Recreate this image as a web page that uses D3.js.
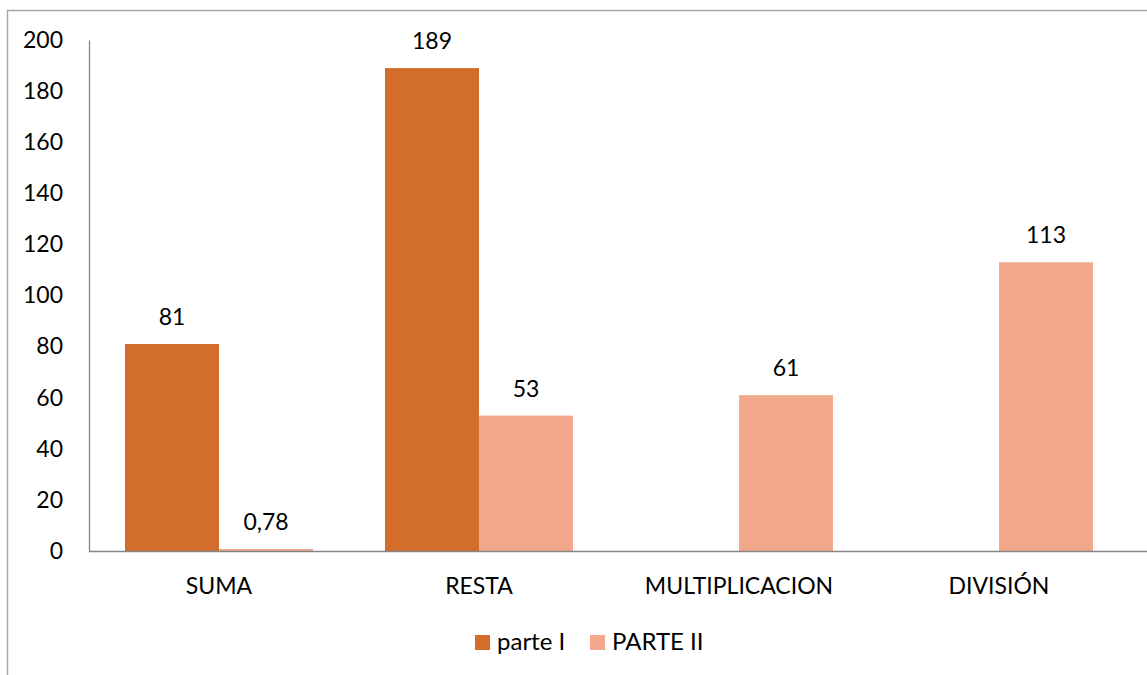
<!DOCTYPE html>
<html><head><meta charset="utf-8">
<script src="https://cdn.jsdelivr.net/npm/d3@7"></script>
<style>body{margin:0;background:#fff}svg{display:block}svg text{font-family:Lato,sans-serif}</style>
</head><body><svg id="c" width="1147" height="675"></svg>
<script>
const categories = ["SUMA","RESTA","MULTIPLICACION","DIVISIÓN"];
const seriesNames = ["parte I","PARTE II"];
const parteI = [81, 189, null, null];
const parteII = [0.78, 53, 61, 113];
const labelsI = ["81","189","",""];
const labelsII = ["0,78","53","61","113"];
const yTicks = [0,20,40,60,80,100,120,140,160,180,200];
const colors = ["#D36D2B","#F2A98B"];

(function(){
const FS = 23;
const svg = d3.select("#c");
svg.append("rect").attr("x",7.5).attr("y",10.5).attr("width",1160).attr("height",700)
  .attr("fill","none").attr("stroke","#a6a6a6").attr("stroke-width",1.5);

const pL=89, pR=1129, pT=40, pB=551;
const x = d3.scaleBand().domain(categories).range([pL,pR]).paddingInner(0).paddingOuter(0);
const y = d3.scaleLinear().domain([0,200]).range([pB,pT]);
const barW = 94;
const sub = d3.scaleBand().domain([0,1]).range([x.bandwidth()/2-barW, x.bandwidth()/2+barW]);

const series = [parteI, parteII];
const labels = [labelsI, labelsII];
series.forEach((vals,s)=>{
  categories.forEach((c,i)=>{
    const v = vals[i];
    if(v==null) return;
    const bx = x(c)+sub(s);
    svg.append("rect").attr("x",bx).attr("y",y(v)).attr("width",sub.bandwidth())
      .attr("height",y(0)-y(v)).attr("fill",colors[s]);
    svg.append("text").attr("x",bx+sub.bandwidth()/2).attr("y",y(v)-27).attr("dy","0.35em")
      .attr("text-anchor","middle").attr("font-size",FS).attr("fill","#000").text(labels[s][i]);
  });
});

const ya = svg.append("g").attr("transform",`translate(${pL},0)`)
  .call(d3.axisLeft(y).tickValues(yTicks).tickSize(0).tickPadding(26));
ya.attr("font-family",null).attr("font-size",null);
ya.select(".domain").attr("stroke","#868686").attr("stroke-width",1.3);
ya.selectAll("text").attr("font-size",FS).attr("fill","#000");

svg.append("line").attr("x1",pL).attr("x2",1147).attr("y1",pB+0.5).attr("y2",pB+0.5)
  .attr("stroke","#868686").attr("stroke-width",1.3);
const xa = svg.append("g").attr("transform",`translate(0,${pB})`)
  .call(d3.axisBottom(x).tickSize(0).tickPadding(0));
xa.attr("font-family",null).attr("font-size",null);
xa.select(".domain").remove();
xa.selectAll("text").attr("font-size",FS).attr("fill","#000").attr("y",35).attr("dy","0.35em");

const lg = [{x:475,tx:497},{x:590,tx:612}];
seriesNames.forEach((n,i)=>{
  svg.append("rect").attr("x",lg[i].x).attr("y",635).attr("width",15).attr("height",15).attr("fill",colors[i]);
  svg.append("text").attr("x",lg[i].tx).attr("y",642).attr("dy","0.35em").attr("font-size",FS+1).attr("fill","#000").text(n);
});
})();
</script></body></html>
